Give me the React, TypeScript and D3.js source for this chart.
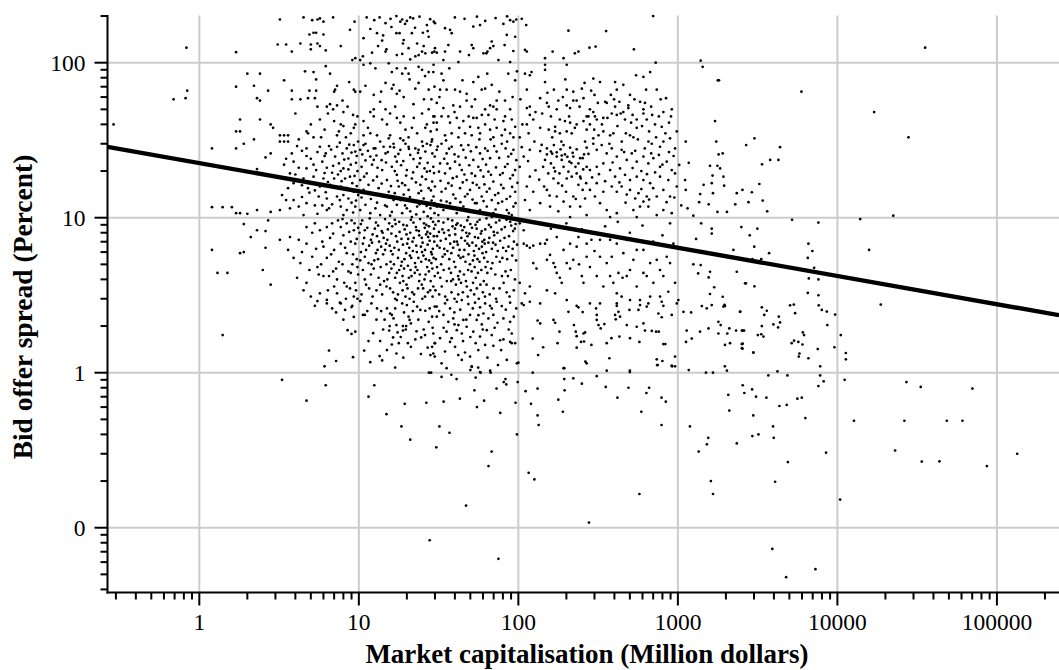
import React from 'react';
import * as d3 from 'd3';

// each firm: [market capitalisation in $M, bid-offer spread in %]
type Firm = [number, number];

const firmsBelow3: Firm[] = [
  [0.83,125],[1.7,117],[0.69,58],[0.82,59],[0.84,66],[0.29,40],[1.2,28],[1.2,11.7],[1.4,11.7],[1.6,11.7],
  [1.7,70],[1.8,43],[1.7,36],[1.8,36],[1.7,28],[1.9,30],[2.0,85],[2.4,85],[2.2,71],[2.3,59],[2.4,57],
  [2.7,66],[2.2,32],[2.4,43],[2.8,40],[2.9,38],[2.8,26],[2.6,24.5],[2.3,20.6],[1.8,10.7],[2.0,10.6],
  [1.9,9.1],[2.1,7.5],[2.3,11.2],[2.3,8.3],[2.6,8.2],[2.7,9.6],[2.8,10.9],[1.2,6.2],[1.3,4.4],[1.5,4.4],
  [1.8,5.9],[1.9,6.0],[2.5,4.6],[2.6,6.4],[2.8,3.7],[1.4,1.75],[1.7,10.7]
];

const firms3to10: Firm[] = [
  [3.2,190],[4.5,196],[5.1,188],[5.5,190],[5.7,193],[6.0,184],[6.9,196],[4.9,152],[5.2,156],[5.4,156],
  [6.0,152],[3.1,131],[3.5,131],[3.8,118],[4.3,133],[5.0,131],[5.5,133],[5.7,128],[5.0,122],[6.2,120],
  [7.7,128],[8.8,163],[9.4,184],[9.1,104],[9.5,107],
  [5.2,87],[6.6,85],[5.4,78],[7.3,71],[7.1,67],[7.0,65],[6.6,54],[6.3,52],[7.3,53],[6.9,50],[6.4,47],
  [8.0,48],[5.5,52],[9.3,67],[9.5,65],[4.8,59],[5.3,59],[3.8,66],[3.8,58],[4.3,58],[4.9,66],[5.4,66],
  [3.2,34],[3.4,34],[3.6,34],[3.2,31],[3.4,31],[3.6,31],[4.7,36],[4.8,35],[4.2,32],[5.2,33],[7.3,34],
  [8.0,39],[9.3,38],[9.5,40],[7.7,40],[5.7,43],[9.2,46],[6.1,37],[5.0,40],[4.0,47],[7.9,57],[8.7,75],
  [6.2,95],[4.6,88],[3.4,77],[5.8,33],[7.0,42],[8.5,52],[9.9,31],[8.9,35],
  [4.7,28],[4.7,25],[3.8,26],[3.9,23],[4.2,21],[3.7,19.3],[4.7,20.8],[5.2,22],[5.7,28.7],[6.2,26],
  [5.9,23],[6.3,21],[7.3,28.7],[7.1,24.8],[7.5,22.4],[8.0,20.8],[8.6,24.1],[9.3,29.4],[9.5,26.7],
  [8.8,18.4],[8.2,17.9],[7.0,17.9],[6.0,17.9],[5.2,18.4],[4.5,17.9],[3.9,16.7],[3.6,15.5],[4.8,15.5],
  [5.7,15.9],[6.6,16.3],[7.7,15.9],[9.1,16.7],[9.3,14.7],[8.6,13.3],[7.3,13.7],[6.3,13.3],[5.6,13.7],
  [4.7,12.4],[4.2,11.8],[3.7,11.5],[7.7,11.8],[8.4,11.2],[9.5,11.8],[6.3,11.2],[5.5,10.6],[4.5,10.4],
  [3.5,13],[3.2,11.2],[4.0,19],[5.0,24],[6.8,19.5],[8.9,22],[7.9,26],[6.5,29],[4.4,27],[3.4,22],[9.8,20],
  [9.0,12.5],[8.0,14],[5.9,12],[4.9,14.5],[3.3,14],[6.1,25],[7.6,13],[9.7,16],[8.4,28],
  [9.0,26.3],[8.1,23.7],[6.9,21.6],[9.6,22.6],[7.8,17.2],[9.9,14.0],[8.4,15.5],[6.2,14.6],[6.8,12.2],
  [9.2,10.8],[8.0,10.4],[5.3,12.0],[4.4,13.6],[9.7,25.0],[8.7,29.6],[6.1,19.4],[5.4,20.3],[7.7,20.0],
  [9.4,18.6],[6.5,11.5],[9.6,12.9],[8.3,33],[9.8,45],[7.5,36],[3.5,24],[4.1,29],[5.5,26.5],[6.7,27.5],
  [7.6,30.5],[4.4,16.2],[3.9,13.0],[5.3,15.0],[6.4,17.0],[7.4,19.0],[8.6,20.5],
  [3.2,7.2],[3.7,7.5],[4.2,7.2],[4.7,8.7],[5.3,9.2],[5.7,8.3],[6.3,8.7],[6.8,9.2],[7.7,8.7],[8.4,9.2],
  [9.3,8.3],[3.6,6.2],[3.9,5.5],[4.3,5.1],[4.7,6.8],[5.1,5.6],[5.5,4.8],[6.0,6.5],[6.3,5.5],[7.0,6.2],
  [7.7,6.8],[8.4,5.9],[9.1,5.0],[9.5,6.8],[6.0,4.2],[6.5,4.2],[7.3,4.0],[4.7,3.8],[4.1,4.1],[4.5,3.4],
  [5.7,3.25],[5.0,3.1],[7.3,3.25],[8.4,3.6],[9.3,3.1],[7.7,2.8],[9.1,2.7],[6.3,2.8],[5.3,2.7],[8.8,3.5],
  [9.5,3.8],[8.0,7.7],[8.9,7.0],[9.7,5.4],[7.5,5.2],[8.6,4.5],[9.9,4.3],[6.9,7.9],[9.0,9.6],[7.2,4.7],
  [9.6,3.4],[5.1,8.0],[6.6,7.4],[7.9,9.8],[8.7,8.1],[9.7,7.3],[5.9,7.0],[4.4,6.0],[5.4,6.3],[6.7,5.8],
  [8.2,6.4],[9.2,5.8],[7.9,5.0],[8.9,4.4],[9.8,4.8],[6.9,4.5],[5.8,5.0],[4.9,4.6],[8.1,3.8],[9.8,3.0],
  [7.0,3.6],[6.4,3.4],[5.6,4.3],[8.3,3.0],[9.4,9.2],[9.9,8.6],[7.4,9.6],
  [3.3,0.90],[4.7,0.66],[6.2,0.83],[6.1,1.1],[6.5,1.39],[7.2,1.19],[7.2,2.45],[7.6,2.83],[8.2,2.54],
  [9.0,2.65],[9.3,2.29],[8.5,1.88],[9.0,1.78],[9.5,1.84],[9.2,1.26],[6.3,2.95],[5.5,2.9],[6.8,2.6],[8.0,2.2]
];

const firms10to30: Firm[] = [
  [11.2,196],[13.5,196],[14.7,180],[17.2,200],[18.2,184],[18.7,190],[21,196],[21.9,193],[26.7,175],[29.5,184],
  [10.7,144],[13,155],[14,139],[14.9,122],[14.7,118],[17.2,155],[18,155],[19.1,140],[18.9,133],[21.5,155],
  [23.2,133],[25.2,156],[27.4,147],[24.9,118],[23.7,112],[22.6,110],[26.1,115],[28.8,116],[29.7,118],
  [10.6,110],[12.1,116],[17.3,112],[18.7,114],[10.2,104],[21,105],[12.5,188],[15.8,192],[20,186],[24,198],
  [28,191],[16,170],[22.5,168],[19.5,178],[11.8,165],[27,160],[14.2,150],[25.5,128],[20.5,124],[13.2,128],
  [10.7,97],[11.8,99],[12.7,92],[15.4,99],[16.1,87],[17.3,92],[18.7,85],[19.6,92],[20.5,85],[23.7,94],
  [24.9,90],[27.4,87],[29.4,97],[10.2,65],[11,71],[12.4,62],[14.7,74],[16.1,68],[16.5,72],[17.3,63],
  [19.1,60],[22.6,68],[23.7,74],[27.4,67],[29.8,70],[11.8,48],[12.4,50],[14.7,50],[15.7,47],[17.3,44],
  [19.1,45],[22.1,44],[24.9,47],[27.4,50],[29.8,45],[10.7,42],[12.4,45],[14,43],[18.2,41],[19.6,37],
  [21.5,38],[23.2,35],[26.1,38],[26.7,40],[29.4,41],[10.7,34],[11.8,35],[13,34],[15.7,34],[15.4,32.5],
  [18.2,32.5],[20.5,33],[24.9,31],[28.8,32],[26.7,30],[23.7,27.4],[20.5,28.7],[16.5,30],[14.3,28.7],
  [12.4,28],[10.7,29.4],[11.4,38],[13.6,56],[15.0,40],[16.9,52],[18.0,66],[20.8,78],[22.0,54],[25.6,58],
  [28.2,36],[26.0,82],[28.5,58],[19.0,31.5],[13.8,65],
  [10.2,27.4],[11,30],[11.8,24.8],[12.7,28],[13.6,31],[14.7,26],[15.7,28.7],[16.9,24.8],[18.2,27.4],
  [19.6,30],[21,25.4],[22.6,28],[24.3,24.2],[26.1,26.7],[28.1,29.4],[29.9,24.8],[10.4,21.3],[11.2,19.3],
  [12.1,22],[13,18.4],[14,20.3],[15,17.5],[16.1,21.3],[17.3,18.9],[18.7,16.7],[20,20.3],[21.5,17.9],
  [23.2,21.3],[24.9,18.4],[26.7,19.8],[28.8,17.1],[10.7,15.1],[11.5,16.3],[12.4,14.1],[13.3,15.5],
  [14.3,13.7],[15.4,14.7],[16.5,13],[17.8,15.9],[19.1,14.1],[20.5,15.1],[22.1,12.7],[23.7,14.4],
  [25.5,13.3],[27.4,15.5],[29.4,13.7],[10.2,11.2],[11,12.1],[11.8,10.7],[12.7,11.5],[13.6,10.4],[15,11.8],
  [16.1,10.9],[17.3,12.1],[18.7,10.7],[20,11.5],[21.5,10.1],[23.2,11.8],[25.5,10.9],[28.1,11.5],[29.8,10.7],
  [12.4,23.6],[24.3,16.3],[10.2,17.5],[29.8,12.4],[17.3,23],
  [10.5,25.6],[11.4,27.0],[12.9,25.2],[13.9,23.5],[15.2,26.5],[16.6,28.4],[17.7,25.8],[19.0,23.2],
  [20.6,27.8],[22.0,23.9],[23.5,26.2],[25.2,29.0],[27.0,22.6],[28.9,26.0],[11.0,23.4],[13.1,21.0],
  [14.8,22.7],[16.8,20.0],[18.4,21.8],[19.8,18.7],[21.9,19.6],[24.0,22.4],[25.8,20.8],[27.9,20.0],
  [29.6,19.4],[10.8,18.4],[12.3,17.4],[13.9,16.6],[15.9,16.0],[17.5,17.3],[19.5,16.2],[22.8,16.9],
  [24.6,14.9],[26.3,17.7],[28.3,15.0],[11.9,13.2],[13.0,12.5],[14.6,12.0],[16.8,14.4],[18.3,13.0],
  [20.9,13.6],[22.9,10.5],[24.0,12.2],[26.6,11.9],[28.6,12.9],[10.4,13.5],[15.7,10.3],[19.5,12.0],
  [21.0,11.0],[27.0,10.2],
  [10.5,9.6],[12.8,9.3],[14.6,9.8],[17.9,9.4],[21.2,9.7],[25.6,9.2],[28.3,9.9],[11.3,8.6],[13.9,8.2],
  [16.2,8.8],[19.4,8.4],[22.8,8.7],[26.9,8.1],[29.6,8.5],[10.1,8.0],[10.8,7.4],[12.2,7.8],[15.1,7.2],
  [17.1,7.6],[20.4,7.3],[23.9,7.7],[27.8,7.1],[13.4,7.0],[25.1,6.9],[11.6,6.6],[13.1,6.2],[14.8,6.8],
  [16.7,6.4],[18.9,6.7],[21.8,6.1],[24.5,6.5],[29.1,6.3],[10.3,6.0],[19.8,5.9],[10.9,5.6],[12.5,5.3],
  [14.2,5.8],[15.8,5.2],[17.6,5.5],[20.9,5.7],[22.5,5.1],[26.3,5.4],[28.7,5.8],[12.0,5.0],[18.4,4.9],
  [10.6,4.6],[11.9,4.3],[13.7,4.8],[15.5,4.4],[16.9,4.1],[19.2,4.7],[21.4,4.2],[23.3,4.6],[25.8,4.0],
  [27.5,4.5],[29.9,4.2],[14.4,3.9],[11.1,3.7],[12.9,3.4],[14.9,3.6],[16.4,3.3],[18.1,3.8],[20.2,3.5],
  [22.2,3.2],[24.8,3.7],[27.1,3.3],[29.3,3.6],[10.4,3.2],[19.6,3.1],[15.9,6.1],[17.4,7.0],[18.6,5.2],
  [20.7,6.4],[22.1,7.4],[23.6,5.5],[24.1,4.3],[26.0,6.2],[27.2,7.5],[28.5,5.1],[21.1,4.6],[19.0,3.9],
  [16.0,4.7],[25.3,3.5],[29.7,7.0],[23.0,8.3],[26.5,9.0],[20.0,8.9],[17.0,9.1],
  [10.3,9.1],[11.7,9.9],[13.2,8.9],[15.5,9.2],[16.8,9.7],[19.0,9.0],[22.0,9.3],[24.2,9.8],[27.5,8.8],
  [29.2,9.4],[10.9,8.3],[12.6,8.5],[14.1,8.0],[15.2,8.4],[18.0,8.1],[21.0,8.0],[23.8,8.2],[25.9,8.6],
  [28.0,7.9],[11.9,7.2],[13.0,7.6],[14.3,7.4],[16.0,7.9],[18.5,7.3],[19.9,7.8],[21.7,7.0],[24.8,7.4],
  [26.4,7.8],[29.5,7.6],[10.6,6.8],[12.1,6.9],[13.8,6.5],[15.6,6.6],[17.8,6.2],[20.1,6.8],[22.9,6.6],
  [24.9,6.0],[27.0,6.7],[28.4,6.0],[11.1,6.2],[12.8,5.9],[14.6,6.2],[16.3,5.8],[19.3,5.4],[21.3,5.5],
  [23.1,6.0],[25.4,5.7],[27.6,5.3],[29.4,5.5],[10.2,5.3],[11.5,5.1],[13.2,5.4],[14.9,5.0],[16.6,5.0],
  [17.9,4.6],[20.3,4.9],[22.7,4.8],[24.6,5.2],[26.8,4.8],[28.9,4.7],[10.9,4.0],[12.4,4.7],[13.3,4.1],
  [15.1,4.0],[17.3,4.4],[18.8,4.2],[20.6,4.1],[22.4,4.4],[23.9,3.9],[26.2,4.3],[28.2,3.9],[11.6,3.5],
  [13.6,3.7],[15.7,3.5],[17.6,3.2],[19.9,3.7],[21.6,3.3],[23.5,3.5],[26.0,3.1],[28.0,3.4],[12.2,3.1],
  [14.0,3.2],[16.9,3.0],[18.8,3.4],[20.8,3.0],[25.0,3.0],[29.0,3.1],
  [15,2.6],[15.7,2.41],[16.1,2.36],[16.5,2.24],[17.3,2.94],[18.7,2.8],[20,2.73],[22.1,2.87],[23.2,2.67],
  [24.3,2.54],[26.1,2.51],[27.4,2.13],[28.8,2.3],[29.9,2.67],[17.2,2.03],[18.9,2.0],[19.8,2.0],[20.5,2.3],
  [20.8,2.19],[21.2,2.08],[15.6,2.0],[15.5,1.87],[16.4,1.69],[17.5,1.82],[18.9,1.87],[19.7,1.9],[22.6,1.64],
  [24.6,1.69],[27,1.45],[28.8,1.47],[29.9,1.55],[16.1,1.52],[17.8,1.55],[17.2,1.33],[21.2,1.47],[24.5,1.32],
  [28.1,1.3],[29.9,1.27],[12,2.8],[13.8,2.5],[14.2,1.9],[11.5,1.6],[12.9,2.2],
  [10.2,2.9],[11.3,2.5],[13.0,2.6],[14.5,2.2],[16.9,2.6],[19.2,2.45],[21.8,2.5],[23.6,2.2],[25.5,1.9],
  [27.8,2.6],[12.3,1.8],[13.6,1.6],[15.0,1.4],[18.3,1.7],[20.3,1.55],[23.0,1.85],[26.0,1.75],[29.0,1.95],
  [14.0,1.2],[19.0,1.25],
  [12.5,0.83],[11.5,0.70],[14.9,0.54],[19.4,0.63],[26.5,0.64],[18.5,0.45],[21,0.37],[27.8,0.083],[28.4,1.0],
  [10.6,2.36],[10.9,2.36],[11.8,1.17],[10.8,1.39],[13.5,1.28],[16.9,1.08]
];

const firms30to100: Firm[] = [
  [30,180],[34.7,167],[37.3,163],[38.2,155],[52.2,171],[57.5,175],[80.6,178],[88.8,188],[93.1,184],
  [68.1,137],[69.7,128],[60.4,115],[51,130],[49,112],[43.1,118],[36.4,130],[34.7,118],[30.8,116],[30,124],
  [33.9,104],[42.1,101],[63,115],[64,118],[75,104],[88.8,101],[95.5,147],[84.6,151],[82,130],[93,119],
  [66.5,124],[52.2,124],[40,196],[46,192],[55,198],[62,186],[72,194],[85,199],[97,190],
  [29.3,87],[33,85],[33.9,77],[32.3,67],[35.5,67],[40.1,67],[43.1,65],[47.4,63],[52.2,75],[56.1,81],
  [58.9,67],[61.9,68],[68.1,72],[73.1,57],[82.5,57],[86.5,85],[95.5,77],[30.8,55],[33.9,51],[39.1,53],
  [43.1,52],[47.4,57],[51,52],[54.8,44],[61.9,50],[66.5,53],[69.7,52],[73.1,50],[82.5,45],[88.8,50],
  [90.9,43],[29.3,45],[33,45],[36.4,45],[41.1,44],[45.2,42],[49.8,38.6],[56.1,38],[61.9,40],[66.5,37],
  [73.1,38],[82.5,37],[95.5,38.6],[30.8,37],[34.7,34],[38.2,35],[42.1,33],[46.3,35],[51,34],[57.5,35],
  [69.7,33],[78.7,34],[88.8,35],[37.3,41],[30.8,41],[52.2,44],[64.9,46],[80.6,42],[93.1,33],
  [32.0,60],[36.9,92],[39.8,48],[44.6,77],[48.8,45],[53.5,58],[59.0,46],[63.8,85],[71.0,43],[76.0,65],
  [85.0,31],[92.0,60],[98.0,88],[42.6,38],[57.0,32],[67.0,32],[35.2,31.5],
  [28.6,31],[30.8,27.4],[33,30],[35.5,26],[38.2,28.7],[42.1,24.8],[45.2,27.4],[48.6,29.4],[52.2,23.6],
  [57.5,26],[61.9,28],[66.5,24.2],[73.1,26.7],[78.7,30],[86.5,24.8],[93.1,27.4],[29.3,21.3],[32.3,22.4],
  [34.7,19.3],[37.3,20.8],[41.1,18.4],[44.2,20.3],[47.4,17.5],[51,19.3],[56.1,21.3],[60.4,18.4],
  [64.9,19.8],[69.7,17.1],[76.8,18.9],[82.5,21.3],[88.8,17.9],[95.5,20.3],[30,15.9],[33,14.7],[36.4,16.7],
  [39.1,14.1],[43.1,15.5],[46.3,13.7],[49.8,15.1],[54.8,16.3],[58.9,13.7],[63.4,14.7],[68.1,13],
  [74.8,14.4],[80.6,15.5],[88.8,13.7],[95.5,14.7],[30.8,11.8],[33.9,11.2],[37.3,12.4],[41.1,10.7],
  [45.2,11.8],[49.8,10.9],[53.5,12.4],[57.5,11.2],[63.4,11.8],[69.7,10.7],[74.8,12.4],[84.6,11.2],
  [93.1,11.8],[31.5,10.4],[48.6,10.1],[68.1,10.1],[35.5,12.7],[40.1,23],[54.8,12.4],[90.9,10.4],
  [31.2,28.8],[34.3,24.0],[36.8,27.9],[39.8,25.6],[43.8,29.3],[46.8,24.4],[50.4,26.8],[54.5,28.5],
  [59.7,23.9],[64.2,27.0],[70.5,29.0],[75.8,24.3],[83.2,28.0],[90.2,25.8],[97.1,23.5],[31.8,19.8],
  [35.9,22.3],[38.8,18.0],[42.8,21.9],[45.9,19.0],[49.2,21.8],[53.6,18.6],[58.0,20.2],[62.7,22.0],
  [67.3,18.9],[72.4,21.1],[79.8,19.4],[85.6,22.2],[92.3,18.8],[98.7,16.8],[32.5,17.3],[35.0,15.4],
  [38.2,16.1],[40.4,13.3],[44.8,16.9],[48.0,14.2],[51.8,16.8],[56.8,15.6],[61.3,16.4],[66.0,15.4],
  [71.5,14.0],[77.9,16.3],[84.4,13.2],[91.4,15.8],[32.7,12.9],[39.7,11.6],[43.3,12.6],[51.6,13.1],
  [60.5,12.8],[72.0,11.3],[79.1,12.7],[87.1,10.7],[96.0,12.4],
  [31.6,9.5],[36.2,9.8],[41.5,9.2],[47.8,9.6],[55.3,9.4],[63.1,9.9],[72.4,9.3],[84.2,9.7],[96.1,9.1],
  [33.4,8.4],[38.7,8.8],[44.6,8.3],[51.2,8.6],[58.9,8.2],[67.3,8.7],[78.5,8.4],[90.2,8.9],[30.9,7.6],
  [35.1,7.3],[40.2,7.8],[46.3,7.1],[53.4,7.5],[61.2,7.2],[70.6,7.7],[81.9,7.4],[93.8,7.0],[32.1,6.4],
  [37.4,6.8],[42.8,6.2],[49.2,6.6],[56.7,6.3],[64.9,6.9],[74.3,6.1],[86.7,6.5],[98.2,6.7],[30.4,5.4],
  [34.6,5.8],[39.5,5.2],[45.1,5.6],[51.9,5.3],[59.6,5.9],[68.8,5.1],[79.4,5.5],[91.5,5.7],[31.3,4.4],
  [36.8,4.7],[41.9,4.2],[48.4,4.6],[54.1,4.1],[62.3,4.8],[71.7,4.3],[83.1,4.5],[95.2,4.0],[33.1,3.6],
  [38.1,3.3],[43.7,3.8],[50.3,3.4],[57.8,3.7],[66.1,3.2],[76.2,3.5],[88.1,3.1],[32.8,5.0],[35.9,6.1],
  [38.9,4.0],[41.2,7.0],[43.4,5.5],[46.9,3.9],[49.7,5.0],[52.6,6.1],[55.8,4.4],[58.2,7.9],[60.7,3.9],
  [34.2,8.0],[40.8,9.0],[47.1,8.0],[53.9,9.0],[37.9,3.9],[44.9,3.3],[31.9,3.2],[57.1,5.2],[62.8,6.0],
  [69.4,6.9],[73.9,8.0],[80.3,6.4],[86.0,4.2],[92.7,8.2],
  [30.2,9.0],[33.9,9.3],[38.5,9.6],[43.6,8.9],[50.0,9.1],[57.2,9.7],[65.4,9.0],[76.1,9.6],[88.9,9.4],
  [98.5,9.8],[31.8,8.1],[36.5,8.3],[40.1,8.5],[45.8,8.7],[49.3,7.9],[54.8,8.5],[62.0,8.4],[70.1,8.1],
  [82.3,8.7],[95.0,8.5],[32.6,7.1],[37.0,7.7],[39.6,7.0],[43.9,7.4],[48.0,7.6],[51.5,6.9],[56.0,7.4],
  [59.5,7.0],[65.8,7.4],[76.9,7.1],[87.4,7.6],[31.0,6.6],[34.3,6.3],[39.0,6.4],[41.7,6.7],[45.9,6.2],
  [47.9,6.8],[54.3,6.6],[59.0,6.5],[61.5,6.8],[68.2,6.3],[71.9,6.7],[83.8,6.1],[92.1,6.3],[33.5,5.6],
  [36.9,5.4],[38.0,5.9],[42.2,5.7],[46.6,5.2],[48.7,5.8],[53.0,5.7],[55.4,5.4],[61.0,5.5],[64.1,5.2],
  [72.8,5.6],[76.5,5.2],[85.1,5.4],[96.8,5.3],[30.9,4.8],[34.0,4.6],[37.8,4.4],[40.3,4.8],[43.0,4.5],
  [45.6,4.3],[50.9,4.5],[53.2,4.8],[58.6,4.6],[63.9,4.4],[67.5,4.7],[78.9,4.2],[89.7,4.6],[32.4,4.1],
  [35.6,3.9],[40.6,3.7],[42.4,4.0],[47.5,3.6],[52.0,3.8],[54.9,3.5],[59.9,3.3],[63.2,3.7],[69.9,3.5],
  [80.8,3.8],[93.6,3.4],[30.2,3.4],[34.8,3.1],[39.8,3.0],[42.0,3.2],[48.2,3.1],[52.9,3.2],[56.5,3.0],
  [61.8,3.1],[72.5,3.0],[84.5,3.3],
  [30.8,2.67],[34.7,2.8],[37.3,2.6],[41.1,2.87],[44.2,2.94],[48.6,2.77],[53.5,2.83],[57.5,2.64],[61.9,2.8],
  [68.1,2.6],[73.1,2.87],[78.7,2.69],[88.8,2.83],[30.8,2.3],[33.9,2.36],[36.4,2.13],[39.1,2.24],[42.1,2.03],
  [45.2,2.19],[49.8,2.36],[54.8,2.19],[60.4,2.41],[64.9,2.24],[69.7,2.36],[80.6,2.24],[88.8,2.13],
  [29.3,1.79],[32.3,1.67],[35.5,1.84],[38.2,1.67],[41.1,1.88],[44.2,1.79],[47.4,1.98],[52.2,1.84],
  [57.5,1.71],[63.4,1.88],[68.1,1.75],[76.8,1.62],[90.9,1.79],[30,1.55],[34.7,1.37],[37.3,1.58],[40.1,1.47],
  [46.3,1.35],[49.8,1.27],[56.1,1.4],[61.9,1.51],[69.7,1.49],[80.6,1.64],[88.8,1.58],[95.5,1.55],
  [29.3,1.33],[33,1.15],[35.5,1.07],[44.2,1.21],[51,1.09],[57.5,1.01],[66.5,1.03],[84.6,1.21],[98,1.15],
  [90.9,1.55],[97,2.6],[31.9,2.5],[35.8,2.95],[39.7,2.45],[43.2,2.55],[47.2,2.2],[51.8,2.6],[56.2,2.35],
  [59.0,2.05],[66.4,2.7],[74.0,2.1],[83.4,2.55],[93.6,2.3],[34.0,1.95],[39.8,2.05],[45.0,1.6],[50.0,1.7],
  [54.0,1.55],[59.8,1.9],[71.0,1.95],[78.0,1.4],[87.0,1.9],[42.0,1.3],[64.0,1.25],[74.5,1.12],
  [30.6,0.33],[47,0.139],[75,0.063],[32,0.45],[37,0.41],[34,0.65],[43,0.68],[55,0.60],[61,0.66],[53,0.77],
  [77,0.55],[65,0.25],[68,0.31],[73,0.79],[81,0.87],[84,0.84],[83,0.91],[96,0.64],[98,0.40],[99,0.87],
  [41,0.91],[38,0.97],[33,0.94],[27.5,1.0],[67,1.0],[58,1.0],[54,0.93],[50,1.04],[51,1.10],[56,1.08]
];

const firms100to1000: Firm[] = [
  [110,121],[113,118],[147,107],[164,118],[192,107],[226,115],[238,118],[279,125],[305,127],[206,161],
  [355,160],[530,122],[700,200],[726,100],[105,192],[112,175],
  [147,97],[147,90],[201,97],[110,85],[118,83],[121,87],[147,75],[167,67],[201,67],[221,65],[232,57],
  [250,68],[295,79],[325,75],[404,75],[455,72],[547,83],[608,81],[670,87],[632,67],[737,67],[843,59],
  [414,67],[501,62],[358,55],[404,52],[489,53],[608,50],[608,47],[350,56],[113,67],[118,52],[113,51],
  [137,59],[151,55],[155,52],[174,50],[201,53],[211,51],[221,57],[256,59],[281,50],[275,45],[295,48],
  [302,45],[310,43],[341,44],[385,47],[414,46],[455,48],[489,51],[552,43],[466,43],[811,48],[916,50],
  [638,43],[719,40],[792,38.6],[893,32.5],[984,36],[182,43],[196,42],[211,41],[232,40],[256,42],[268,45],
  [281,40],[170,38.6],[155,37],[137,38],[124,43],[118,46],[113,40],[102,33],[182,35],[170,36],[201,36],
  [216,35],[268,37],[295,32.5],[318,34],[341,36],[376,34],[394,35],[445,31],[501,34],[526,33],[552,38],
  [654,31],[686,30],[773,28.7],[811,31],[106,40],[128,48],[160,45],[190,60],[260,74],[300,62],[380,62],
  [430,56],[520,46],[580,56],[680,52],[760,45],[880,41],
  [103,58],[116,35],[126,31],[141,47],[152,64],[163,33],[178,57],[186,31],[197,78],[208,45],[226,38],
  [242,52],[262,31],[286,66],[299,37],[315,55],[334,40],[362,44],[372,30],[398,58],[418,39],[438,47],
  [472,35],[509,41],[534,58],[561,32],[596,39],[622,55],[660,36],[690,46],[730,33],[780,58],[835,35],
  [905,45],[960,28],[540,27],[620,28],[680,26],
  [140,29.5],[151,28],[160,26.7],[167,29.4],[174,26.4],[184,27.6],[192,29.4],[203,24.7],[211,28.3],
  [219,26.2],[232,27.6],[244,24.2],[258,25.6],[268,28.3],[174,24.8],[187,23.6],[196,25.6],[209,23],
  [221,24.8],[238,22.4],[253,24.2],[268,21.3],[151,25.6],[160,22.4],[167,21],[181,19.3],[192,21.3],
  [206,19.8],[216,18.4],[232,19.3],[246,17.9],[266,16.7],[143,21.3],[154,19.3],[166,17.9],[178,16.7],
  [238,16.3],[253,15.1],[137,26.9],[147,23.6],[275,25.8],[281,20.3],[228,21.3],[201,17.9],[187,25.2],
  [163,25.9],
  [295,30],[310,27.4],[333,29.4],[358,26],[385,28],[414,24.8],[444,27.4],[478,23.6],[514,26],[552,23],
  [608,24.8],[653,22.4],[702,24.2],[773,21.3],[851,23],[915,20.3],[310,21.3],[341,22.4],[376,20.3],
  [404,18.4],[434,20.8],[466,18.9],[501,17.5],[385,15.9],[414,14.7],[444,15.9],[478,14.1],[501,15.1],
  [540,13.3],[566,14.4],[608,12.7],[638,13.7],[579,11.8],[526,11.2],[653,11.8],[773,18.4],[871,17.5],
  [960,19.3],[811,15.1],[893,13.7],[984,15.9],[737,13.7],[310,16.7],[341,14.7],[325,12.4],[358,11.2],
  [302,13.7],[670,16.7],[608,17.5],[552,18.4],[281,15.1],[262,13.3],[244,11.8],[221,13.7],[211,11.8],
  [192,12.7],[174,13.7],[158,11.8],[137,12.4],[118,11.2],[110,13],[124,14.7],[151,15.1],[118,18.4],
  [113,15.9],[102,21.3],[108,24.8],[118,27.4],[811,11.2],[915,10.7],[737,10.4],[552,10.1],[414,10.7],
  [376,10.1],[268,10.4],[211,10.1],[178,11],[244,18.4],
  [105,28.5],[115,23.2],[128,20.2],[135,17.6],[145,15.9],[157,13.9],[170,19.9],[188,16.1],[199,14.7],
  [215,22.5],[229,13.2],[255,20.5],[290,18.2],[320,19.1],[350,17.2],[390,22.7],[430,16.9],[460,26.5],
  [520,20.9],[590,20.0],[640,19.1],[700,15.5],[760,25.4],[850,12.6],[940,25.0],[470,12.5],[590,15.3],
  [660,13.1],[720,19.6],[800,22.0],[880,26.5],[950,13.5],
  [102,9.2],[108,6.8],[113,6.6],[118,6.4],[124,5.1],[130,4.7],[137,6.8],[147,6.8],[151,5.35],[158,5.75],
  [166,5.1],[170,4.8],[174,4.4],[182,4.1],[187,3.8],[192,6.2],[201,5.1],[211,4.7],[221,5.35],[232,6.5],
  [250,4.2],[256,3.8],[268,5.6],[281,4.8],[310,4.2],[325,5.6],[341,3.6],[358,5.1],[376,4.2],[385,5.6],
  [394,3.8],[414,3.25],[424,4.4],[444,3.1],[455,5.9],[478,4.2],[501,4.6],[526,5.35],[552,3.6],[579,2.94],
  [608,4.4],[638,4.2],[670,3.1],[702,3.8],[737,5.35],[773,4.6],[811,4.2],[851,5.6],[893,5.1],[960,3.8],
  [871,3.33],[773,3.1],[670,5.1],[608,6.2],[552,6.2],[478,7.2],[414,6.8],[376,7.2],[325,7.2],[287,7.2],
  [268,6.8],[238,7.5],[211,6.8],[174,7.5],[151,7.2],[124,6.6],[108,8.3],[118,3.6],[110,3.25],[137,2.8],
  [151,3.4],[170,3.25],[201,2.94],[232,2.7],[281,2.8],[325,2.8],[414,2.7],[501,2.94],[638,2.67],
  [811,2.7],[984,2.8],[102,3.8],[105,2.8],[893,9.2],[937,6.8],[160,8.5],[200,9.2],[250,8.4],[300,6.1],
  [350,8.8],[420,9.4],[500,8.0],[600,8.9],[700,7.0],[800,7.7],[240,5.0],[450,4.1],
  [108,2.73],[118,2.87],[137,2.08],[132,2.17],[143,1.46],[123,1.66],[133,1.3],[166,2.19],[170,2.1],
  [176,1.55],[181,1.84],[192,1.07],[206,2.47],[223,2.03],[229,1.84],[232,1.72],[238,2.64],[253,2.46],
  [256,1.79],[262,1.82],[263,1.18],[268,1.15],[232,1.45],[247,1.58],[258,1.59],[287,1.51],[307,2.6],
  [310,2.36],[310,2.19],[318,2.03],[328,1.93],[346,2.06],[358,1.55],[372,1.24],[383,1.67],[404,2.36],
  [408,2.21],[414,2.8],[424,2.47],[430,1.71],[434,2.3],[478,2.03],[497,2.54],[501,1.67],[552,1.98],
  [566,2.54],[574,1.58],[579,2.73],[608,2.08],[622,1.87],[653,2.8],[686,1.86],[730,1.84],[737,1.22],
  [748,1.12],[755,2.41],[759,1.84],[792,2.87],[792,2.28],[811,1.53],[834,1.53],[915,2.36],[960,1.27],
  [915,1.11],
  [111,0.76],[120,0.63],[132,0.79],[132,0.53],[134,0.46],[116,0.226],[126,0.205],[178,0.67],[190,0.56],
  [195,0.77],[194,0.91],[221,0.92],[250,0.85],[277,0.108],[310,0.95],[353,0.81],[418,0.69],[490,0.80],
  [574,0.165],[590,0.56],[635,0.74],[660,0.80],[790,0.69],[840,0.65],[790,0.46],[960,1.10],[920,1.10],
  [740,1.12],[800,1.19],[500,1.03],[500,1.01],[358,1.03],[194,1.07],[123,1.0],[100,1.16]
];

const firmsAbove1000: Firm[] = [
  [1190,0.45],[1350,0.31],[1520,0.345],[1550,0.38],[1610,0.20],[1660,0.165],[2070,0.72],[2100,0.57],
  [2340,0.35],[2550,0.83],[2610,0.74],[2920,0.78],[2970,0.53],[3090,0.70],[2930,0.39],[3200,0.40],
  [1500,1.0],[1660,1.0],[1970,1.10],[2030,1.03],[1170,1.04],
  [3910,0.073],[4770,0.048],[7280,0.054],[10400,0.152],[4070,0.198],[4890,0.265],[8490,0.305],[3990,0.38],
  [3950,0.45],[6300,0.51],[4330,0.61],[4810,0.62],[5610,0.68],[5980,0.69],[3590,0.69],[3690,0.96],
  [4210,1.02],[4860,0.96],[7600,0.82],[7800,0.96],[7800,1.1],[8200,0.88],[11100,0.90],[12700,0.49],
  [18700,2.75],[10500,1.75],[11300,1.34],[11300,1.22],[9580,1.46],[9680,2.37],[27100,0.87],[33300,0.81],
  [70200,0.79],[26300,0.49],[48500,0.49],[60800,0.49],[23000,0.315],[33800,0.267],[43600,0.268],
  [86500,0.25],[134000,0.30],
  [2460,2.48],[2520,1.87],[2600,1.87],[2550,1.54],[2520,1.44],[2970,1.35],[3360,2.64],[3610,2.51],
  [3480,2.36],[3360,2.0],[3330,1.77],[3440,1.71],[3970,2.05],[4250,1.96],[4290,2.30],[4370,2.11],
  [5050,2.72],[5330,2.75],[5430,2.42],[6070,1.82],[6180,1.75],[6040,1.52],[5690,1.58],[5350,1.61],
  [5170,1.55],[5780,1.33],[5730,1.27],[6580,1.24],[7530,1.42],[7640,2.72],[7980,2.54],[8580,2.48],
  [8650,2.03],
  [35500,125],[5950,65],[17000,48],[27900,33],[22400,10.3],[13900,9.8],[15800,6.2],[2680,29.4],[3020,32.5],
  [4370,28.5],[3370,22.1],[3790,23.6],[4270,23.6],[2910,14.6],[2770,12.6],[3400,12.9],[3630,11],
  [5200,9.7],[7600,9.3],[2500,8.7],[3150,8.5],[2820,7.7],[3010,6.5],[3730,5.9],[3330,5.4],[2930,5.4],
  [6580,6.8],[6970,6.1],[6520,5.5],[7150,4.75],[6620,4.06],[7600,4.0],[6520,3.27],[7600,3.16],[2670,3.77],
  [3020,3.61],
  [1390,103],[1430,94],[1780,77],[1810,77],[1710,42],[1740,31],[1120,31],[1770,21.6],[1910,26],
  [1800,25.6],[1590,21.6],[1650,18.7],[1840,20.8],[1930,18.4],[1450,16.3],[1630,16.7],[1950,16.1],
  [1020,21.9],[1170,22.6],[1110,17.5],[1120,15.1],[1380,14.2],[1660,14.4],[1360,12.6],[1560,12.2],
  [1770,10.9],[2030,10.9],[2340,14.4],[2540,15.1],[2290,12.2],[3240,16.5],[1400,9.2],[1630,8.5],
  [1630,7.9],[1300,7.3],[1250,5.0],[1390,4.95],[1340,4.37],[1590,4.48],[1560,4.12],[1690,3.56],
  [1590,3.22],[1910,3.09],[1960,2.74],[2230,6.2],[2340,4.48],[2640,3.77],[1050,12],[1150,11.5],[1250,10.3],
  [1007,2.94],[1084,2.47],[1211,2.45],[1136,1.87],[1125,1.58],[1222,1.66],[1377,1.84],[1413,2.69],
  [1517,2.6],[1556,1.93],[1630,2.73],[1795,2.13],[1855,2.03],[1795,1.79],[1928,2.67],[1973,2.69],
  [2042,1.79],[2101,1.93],[1973,1.51],[2123,1.55],[2315,1.87],[2453,2.47],[2553,1.87],[2515,1.53],
  [2541,1.43],[2977,1.35],[3170,1.75]
];

const allFirms: Firm[] = [
  ...firmsBelow3, ...firms3to10, ...firms10to30, ...firms30to100, ...firms100to1000, ...firmsAbove1000
];

const capTicksMajor = [1, 10, 100, 1000, 10000, 100000];
const capTickLabels = ['1', '10', '100', '1000', '10000', '100000'];
const spreadTicksMajor = [0.1, 1, 10, 100];
const spreadTickLabels = ['0', '1', '10', '100'];

const capDomain: [number, number] = [0.2657, 245000];
const spreadDomain: [number, number] = [0.0382, 201.6];

// fitted line: spread = fitAt1 * cap ^ fitSlope
const fitAt1 = 22.5;
const fitSlope = -0.182;

const width = 1059;
const height = 670;
const margin = { top: 15.5, right: 0, bottom: 77.5, left: 107.5 };
const font = '"Liberation Serif", "Times New Roman", serif';

const isPow10 = (t: number) => Math.abs(Math.log10(t) - Math.round(Math.log10(t))) < 1e-6;

export default function App() {
  const x = d3.scaleLog().domain(capDomain).range([margin.left, width - margin.right]);
  const y = d3.scaleLog().domain(spreadDomain).range([height - margin.bottom, margin.top]);
  const x0 = margin.left;
  const y0 = height - margin.bottom;

  const xMinor = x.ticks().filter(t => !isPow10(t) && t >= capDomain[0] && t <= capDomain[1]);
  const yMinor = y.ticks().filter(t => !isPow10(t) && t >= spreadDomain[0] && t <= spreadDomain[1]);

  const fitLine = d3.line<number>()
    .x(d => x(d))
    .y(d => y(fitAt1 * Math.pow(d, fitSlope)));

  return (
    <svg width={width} height={height}
      style={{ position: 'absolute', left: 0, top: 0, display: 'block', background: '#fff' }}>
      {/* grid */}
      <g stroke="#cccccc" strokeWidth={2}>
        {capTicksMajor.map(t => (
          <line key={'gx' + t} x1={x(t)} x2={x(t)} y1={margin.top} y2={y0} />
        ))}
        {spreadTicksMajor.map(t => (
          <line key={'gy' + t} x1={x0} x2={width} y1={y(t)} y2={y(t)} />
        ))}
      </g>

      {/* firms */}
      <g fill="#000">
        {allFirms.map((d, i) => (
          <circle key={i} cx={x(d[0])} cy={y(d[1])} r={1.35} />
        ))}
      </g>

      {/* regression line */}
      <path d={fitLine(capDomain) || ''} fill="none" stroke="#000" strokeWidth={4.4} />

      {/* axes */}
      <g stroke="#000" strokeWidth={2}>
        <line x1={x0} x2={x0} y1={margin.top - 0.5} y2={y0 + 1} />
        <line x1={x0 - 1} x2={width} y1={y0} y2={y0} />
        {capTicksMajor.map(t => (
          <line key={'tx' + t} x1={x(t)} x2={x(t)} y1={y0} y2={y0 + 13} />
        ))}
        {xMinor.map(t => (
          <line key={'mx' + t} x1={x(t)} x2={x(t)} y1={y0} y2={y0 + 7} />
        ))}
        {spreadTicksMajor.map(t => (
          <line key={'ty' + t} x1={x0 - 13} x2={x0} y1={y(t)} y2={y(t)} />
        ))}
        {yMinor.map(t => (
          <line key={'my' + t} x1={x0 - 7} x2={x0} y1={y(t)} y2={y(t)} />
        ))}
      </g>

      <g fontFamily={font} fontSize={23.5} fill="#000">
        {capTicksMajor.map((t, i) => (
          <text key={'lx' + t} x={x(t)} y={y0 + 37.5} textAnchor="middle">{capTickLabels[i]}</text>
        ))}
        {spreadTicksMajor.map((t, i) => (
          <text key={'ly' + t} x={x0 - 22} y={y(t) + 8} textAnchor="end">{spreadTickLabels[i]}</text>
        ))}
      </g>

      <text x={587} y={663} textAnchor="middle" fontFamily={font} fontSize={27} fontWeight="bold">
        Market capitalisation (Million dollars)
      </text>
      <text transform="translate(32,307) rotate(-90)" textAnchor="middle" fontFamily={font}
        fontSize={27.5} fontWeight="bold">
        Bid offer spread (Percent)
      </text>
    </svg>
  );
}
